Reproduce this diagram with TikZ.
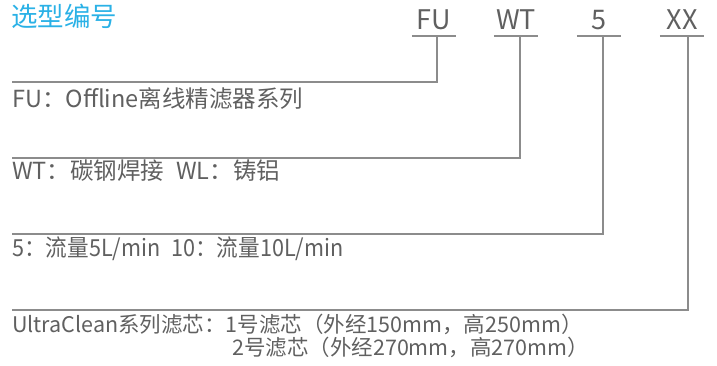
\documentclass[tikz,border=0pt]{standalone}
\usepackage{fontspec}
\setmainfont{Noto Sans CJK SC}
\definecolor{titleblue}{HTML}{2AB1E6}
\definecolor{txtgray}{HTML}{606060}
\definecolor{linegray}{HTML}{8C8C8C}
\tikzset{
  lbl/.style={anchor=base west, inner sep=0pt, text=txtgray, font=\fontsize{23.5}{25}\selectfont},
  lblsmall/.style={lbl, font=\fontsize{21.5}{23}\selectfont},
  code/.style={anchor=south, inner sep=0pt, minimum width=44pt, text depth=6pt, text=txtgray, font=\fontsize{27}{27}\selectfont},
  lead/.style={draw=linegray, line width=1.2pt},
}
\begin{document}
\begin{tikzpicture}[x=1pt,y=-1pt]
        \useasboundingbox (0,0) rectangle (717,366);
        % title
        \node[anchor=base west, inner sep=0pt, text=titleblue, font=\fontsize{26.5}{26}\selectfont] (title) at (11,27) {选型编号};

        % code parts
        \node[code] (fu) at (434,36) {FU};      \draw[lead] (fu.south west) -- (fu.south east);
        \node[code] (wt) at (516,36) {WT};      \draw[lead] (wt.south west) -- (wt.south east);
        \node[code] (flow) at (599,36) {5};     \draw[lead] (flow.south west) -- (flow.south east);
        \node[code] (xx) at (682,36) {XX};      \draw[lead] (xx.south west) -- (xx.south east);

        % FU
        \coordinate (fuEnd) at (12,82);
        \draw[lead] ([xshift=3pt]fu.south) |- (fuEnd);
        \node[lbl] (fuText) at (12,108) {FU：Offline离线精滤器系列};
        % WT
        \coordinate (wtEnd) at (12,158);
        \draw[lead] ([xshift=4pt]wt.south) |- (wtEnd);
        \node[lbl] (wtText) at (12,180) {WT：碳钢焊接\hspace{0.5em}WL：铸铝};
        % 5
        \coordinate (flowEnd) at (12,234);
        \draw[lead] ([xshift=4pt]flow.south) |- (flowEnd);
        \node[lbl, xscale=0.92, transform shape] (flowText) at (12,256) {5：流量5L/min\hspace{0.5em}10：流量10L/min};
        % XX
        \coordinate (xxEnd) at (12,310);
        \draw[lead] ([xshift=6pt]xx.south) |- (xxEnd);
        \node[lblsmall] (xxText) at (12,332) {UltraClean系列滤芯：1号滤芯（外经150mm，高250mm）};
        \node[lblsmall] (xxText2) at (232,355) {2号滤芯（外经270mm，高270mm）};
\end{tikzpicture}
\end{document}
